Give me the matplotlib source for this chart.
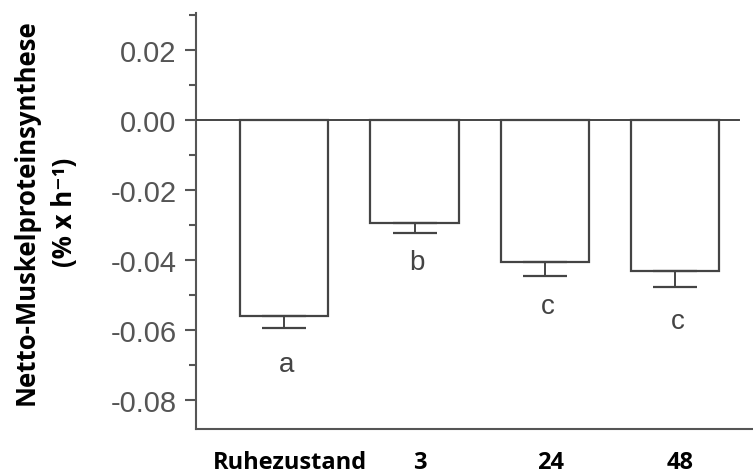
import numpy as np
import matplotlib
matplotlib.use("Agg")
import matplotlib.pyplot as plt
from matplotlib.ticker import MultipleLocator, FormatStrFormatter

#---------- data ----------
gruppen = ["Ruhezustand", "3", "24", "48"]
werte = [-0.0560, -0.0294, -0.0406, -0.0432]
fehler = [0.0034, 0.0029, 0.0040, 0.0045]
buchst = ["a", "b", "c", "c"]
buchst_y = [-0.0697, -0.0405, -0.0530, -0.0575]

plt.rcParams['axes.unicode_minus'] = False
grau = '#555555'

fig = plt.figure(figsize=(7.53, 4.77), dpi=100)
ax = fig.add_axes([0.2603, 0.0985, 0.7397, 0.8721])

x = np.arange(len(gruppen))
ax.bar(x, werte, width=0.677, color='white', edgecolor='#444444', linewidth=1.6, zorder=2)
ax.errorbar(x, werte, yerr=[fehler, [0]*len(fehler)], fmt='none', ecolor='#444444',
            elinewidth=1.4, capsize=16, capthick=1.6, zorder=3)
ax.axhline(0, xmin=0, xmax=0.975, color='#444444', lw=1.4, zorder=4)

for xi, b, by in zip(x, buchst, buchst_y):
    ax.text(xi + 0.02, by, b, ha='center', va='center', fontsize=20,
            color='#444444', family='Liberation Sans')

ax.set_xlim(-0.677, 3.596)
ax.set_ylim(-0.0883, 0.0306)

ax.yaxis.set_major_locator(MultipleLocator(0.02))
ax.yaxis.set_minor_locator(MultipleLocator(0.01))
ax.yaxis.set_major_formatter(FormatStrFormatter('%.2f'))
ax.tick_params(axis='y', which='major', length=8, width=1.5, color=grau,
               labelsize=21, labelcolor=grau, pad=6)
ax.tick_params(axis='y', which='minor', length=5, width=1.5, color=grau)
for t in ax.get_yticklabels():
    t.set_family('Liberation Sans')

ax.set_xticks(x + 0.04)
ax.set_xticklabels(gruppen, fontsize=17, fontweight='bold', family='Open Sans')
ax.tick_params(axis='x', length=0, pad=15)

for s in ['top', 'right']:
    ax.spines[s].set_visible(False)
for s in ['left', 'bottom']:
    ax.spines[s].set_color(grau)
    ax.spines[s].set_linewidth(1.5)

fig.text(45/753, 1 - 212/477, 'Netto-Muskelproteinsynthese\n(% x h⁻¹)', fontsize=18.5,
         fontweight='bold', family=['Open Sans', 'DejaVu Sans'], rotation=90,
         ha='center', va='center', linespacing=1.55, multialignment='center')

fig.savefig('out.png', dpi=100)
